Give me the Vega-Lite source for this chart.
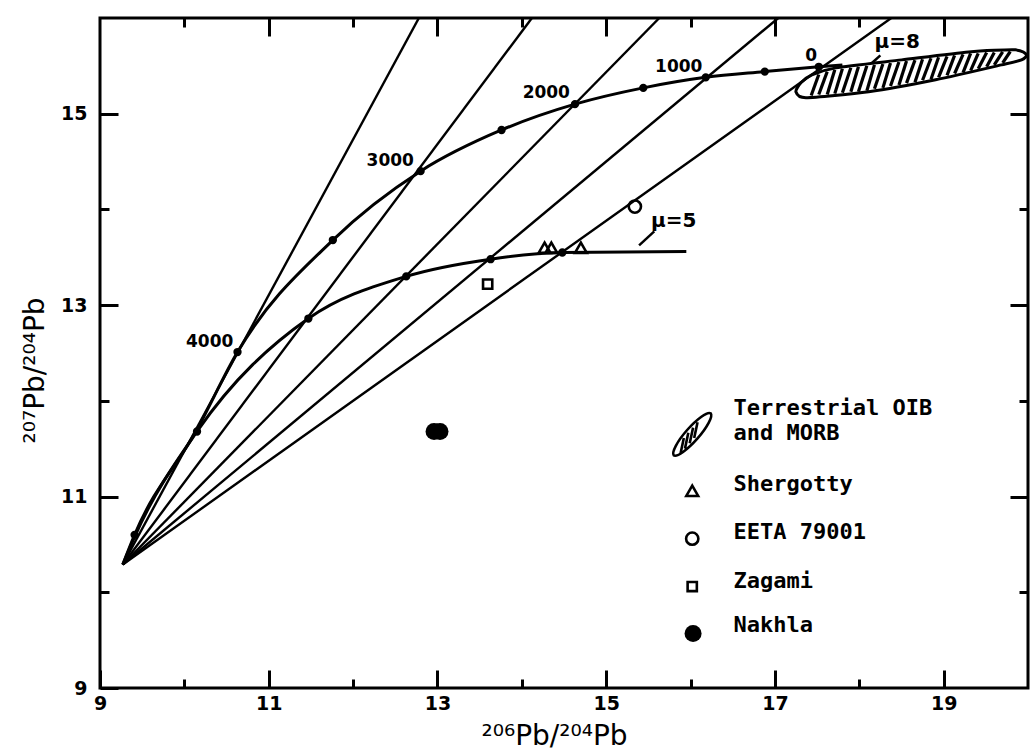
{
  "$schema": "https://vega.github.io/schema/vega-lite/v6.json",
  "width": 928,
  "height": 670,
  "autosize": {"type": "none"},
  "padding": {"left": 100, "top": 18, "right": 5, "bottom": 62},
  "background": "white",
  "config": {"view": {"stroke": "black", "strokeWidth": 3}},
  "datasets": {
    "iso": [
      {"age": 4000, "x": 9.27, "y": 10.29}, {"age": 4000, "x": 12.78, "y": 16},
      {"age": 3000, "x": 9.27, "y": 10.29}, {"age": 3000, "x": 14.12, "y": 16},
      {"age": 2000, "x": 9.27, "y": 10.29}, {"age": 2000, "x": 15.63, "y": 16},
      {"age": 1000, "x": 9.27, "y": 10.29}, {"age": 1000, "x": 17.04, "y": 16},
      {"age": 0, "x": 9.27, "y": 10.29}, {"age": 0, "x": 18.38, "y": 16}
    ],
    "growth": [
      {"mu": 8, "x": 9.27, "y": 10.29, "age": null},
      {"mu": 8, "x": 9.41, "y": 10.60, "age": 4500},
      {"mu": 8, "x": 10.15, "y": 11.70, "age": null},
      {"mu": 8, "x": 10.63, "y": 12.51, "age": 4000},
      {"mu": 8, "x": 11.76, "y": 13.68, "age": 3500},
      {"mu": 8, "x": 12.80, "y": 14.40, "age": 3000},
      {"mu": 8, "x": 13.76, "y": 14.83, "age": 2500},
      {"mu": 8, "x": 14.63, "y": 15.10, "age": 2000},
      {"mu": 8, "x": 15.44, "y": 15.27, "age": 1500},
      {"mu": 8, "x": 16.18, "y": 15.38, "age": 1000},
      {"mu": 8, "x": 16.88, "y": 15.44, "age": 500},
      {"mu": 8, "x": 17.52, "y": 15.49, "age": 0},
      {"mu": 8, "x": 17.80, "y": 15.51, "age": null},
      {"mu": 5, "x": 9.27, "y": 10.29, "age": null},
      {"mu": 5, "x": 9.41, "y": 10.58, "age": null},
      {"mu": 5, "x": 10.15, "y": 11.68, "age": 4000},
      {"mu": 5, "x": 11.47, "y": 12.86, "age": 3000},
      {"mu": 5, "x": 12.63, "y": 13.30, "age": 2000},
      {"mu": 5, "x": 13.63, "y": 13.48, "age": 1000},
      {"mu": 5, "x": 14.48, "y": 13.55, "age": 0},
      {"mu": 5, "x": 15.95, "y": 13.56, "age": null}
    ],
    "agelabels": [
      {"text": "4000", "x": 10.30, "y": 12.62},
      {"text": "3000", "x": 12.44, "y": 14.505},
      {"text": "2000", "x": 14.29, "y": 15.22},
      {"text": "1000", "x": 15.86, "y": 15.49},
      {"text": "0", "x": 17.43, "y": 15.60}
    ],
    "mulabels": [
      {"text": "μ=8", "x": 18.45, "y": 15.75},
      {"text": "μ=5", "x": 15.80, "y": 13.875}
    ],
    "leaders": [
      {"x": 18.15, "y": 15.53, "x2": 18.25, "y2": 15.61},
      {"x": 15.39, "y": 13.625, "x2": 15.57, "y2": 13.77}
    ],
    "morb": [
      {"i": 0, "x": 17.249, "y": 15.229},
      {"i": 1, "x": 17.367, "y": 15.167},
      {"i": 2, "x": 18.112, "y": 15.229},
      {"i": 3, "x": 18.905, "y": 15.354},
      {"i": 4, "x": 19.686, "y": 15.510},
      {"i": 5, "x": 19.923, "y": 15.5625},
      {"i": 6, "x": 19.982, "y": 15.615},
      {"i": 7, "x": 19.852, "y": 15.667},
      {"i": 8, "x": 19.296, "y": 15.646},
      {"i": 9, "x": 18.503, "y": 15.5625},
      {"i": 10, "x": 17.722, "y": 15.479},
      {"i": 11, "x": 17.438, "y": 15.406},
      {"i": 12, "x": 17.308, "y": 15.323}
    ],
    "hatch": [
      {"x": 17.43, "y": 15.19, "x2": 17.52, "y2": 15.41},
      {"x": 17.52, "y": 15.20, "x2": 17.62, "y2": 15.44},
      {"x": 17.62, "y": 15.20, "x2": 17.71, "y2": 15.46},
      {"x": 17.71, "y": 15.21, "x2": 17.80, "y2": 15.47},
      {"x": 17.80, "y": 15.22, "x2": 17.90, "y2": 15.48},
      {"x": 17.90, "y": 15.23, "x2": 17.99, "y2": 15.49},
      {"x": 17.99, "y": 15.23, "x2": 18.09, "y2": 15.50},
      {"x": 18.09, "y": 15.24, "x2": 18.18, "y2": 15.51},
      {"x": 18.18, "y": 15.26, "x2": 18.28, "y2": 15.52},
      {"x": 18.28, "y": 15.27, "x2": 18.37, "y2": 15.53},
      {"x": 18.37, "y": 15.29, "x2": 18.47, "y2": 15.54},
      {"x": 18.47, "y": 15.30, "x2": 18.56, "y2": 15.55},
      {"x": 18.56, "y": 15.32, "x2": 18.66, "y2": 15.56},
      {"x": 18.66, "y": 15.33, "x2": 18.75, "y2": 15.57},
      {"x": 18.75, "y": 15.35, "x2": 18.85, "y2": 15.58},
      {"x": 18.85, "y": 15.36, "x2": 18.94, "y2": 15.59},
      {"x": 18.94, "y": 15.38, "x2": 19.04, "y2": 15.60},
      {"x": 19.04, "y": 15.40, "x2": 19.13, "y2": 15.61},
      {"x": 19.13, "y": 15.42, "x2": 19.23, "y2": 15.62},
      {"x": 19.23, "y": 15.43, "x2": 19.32, "y2": 15.63},
      {"x": 19.32, "y": 15.45, "x2": 19.41, "y2": 15.63},
      {"x": 19.41, "y": 15.47, "x2": 19.51, "y2": 15.64},
      {"x": 19.51, "y": 15.49, "x2": 19.60, "y2": 15.64},
      {"x": 19.60, "y": 15.51, "x2": 19.70, "y2": 15.645},
      {"x": 19.70, "y": 15.53, "x2": 19.79, "y2": 15.65}
    ],
    "samples": [
      {"sample": "Shergotty", "role": "data", "x": 14.27, "y": 13.60},
      {"sample": "Shergotty", "role": "data", "x": 14.35, "y": 13.60},
      {"sample": "Shergotty", "role": "data", "x": 14.70, "y": 13.60},
      {"sample": "EETA 79001", "role": "data", "x": 15.34, "y": 14.03},
      {"sample": "Zagami", "role": "data", "x": 13.595, "y": 13.22},
      {"sample": "Nakhla", "role": "data", "x": 12.96, "y": 11.68},
      {"sample": "Nakhla", "role": "data", "x": 13.03, "y": 11.68},
      {"sample": "Terrestrial OIB and MORB", "role": "key", "x": 16.02, "y": 11.65},
      {"sample": "Shergotty", "role": "key", "x": 16.02, "y": 11.06},
      {"sample": "EETA 79001", "role": "key", "x": 16.02, "y": 10.56},
      {"sample": "Zagami", "role": "key", "x": 16.02, "y": 10.06},
      {"sample": "Nakhla", "role": "key", "x": 16.03, "y": 9.57}
    ],
    "keytext": [
      {"text": "Terrestrial OIB", "x": 16.51, "y": 11.93},
      {"text": "and MORB", "x": 16.51, "y": 11.665},
      {"text": "Shergotty", "x": 16.51, "y": 11.135},
      {"text": "EETA 79001", "x": 16.51, "y": 10.625},
      {"text": "Zagami", "x": 16.51, "y": 10.115},
      {"text": "Nakhla", "x": 16.51, "y": 9.656}
    ]
  },
  "encoding": {
    "x": {"field": "x", "type": "quantitative", "scale": {"domain": [9, 20], "nice": false, "zero": false}, "axis": null},
    "y": {"field": "y", "type": "quantitative", "scale": {"domain": [9, 16], "nice": false, "zero": false}, "axis": null}
  },
  "layer": [
    {
      "data": {"name": "iso"},
      "mark": {"type": "line", "stroke": "black", "strokeWidth": 2.4, "clip": true},
      "encoding": {
        "detail": {"field": "age", "type": "nominal"},
        "x": {"field": "x", "type": "quantitative", "scale": {"domain": [9, 20], "nice": false, "zero": false},
          "axis": {"orient": "bottom", "values": [9, 10, 11, 12, 13, 14, 15, 16, 17, 18, 19],
            "labelExpr": "datum.value % 2 == 1 ? datum.label : ''",
            "tickSize": {"condition": {"test": "datum.value % 2 == 1", "value": -18}, "value": -9},
            "tickWidth": 3, "tickColor": "black", "domain": false, "grid": false,
            "labelFlush": false, "labelOverlap": false, "labelFont": "DejaVu Sans", "labelFontWeight": "bold",
            "labelFontSize": 19, "labelColor": "black", "labelPadding": 24,
            "title": "²⁰⁶Pb/²⁰⁴Pb", "titleFont": "DejaVu Sans", "titleFontSize": 28, "titleFontWeight": "normal",
            "titleColor": "black", "titleX": 454, "titleY": 56, "titleAlign": "center", "titleBaseline": "alphabetic"}},
        "y": {"field": "y", "type": "quantitative", "scale": {"domain": [9, 16], "nice": false, "zero": false},
          "axis": {"orient": "left", "values": [9, 10, 11, 12, 13, 14, 15],
            "labelExpr": "datum.value % 2 == 1 ? datum.label : ''",
            "tickSize": {"condition": {"test": "datum.value % 2 == 1", "value": -18}, "value": -9},
            "tickWidth": 3, "tickColor": "black", "domain": false, "grid": false,
            "labelFlush": false, "labelOverlap": false, "labelFont": "DejaVu Sans", "labelFontWeight": "bold",
            "labelFontSize": 19, "labelColor": "black", "labelPadding": 31,
            "title": "²⁰⁷Pb/²⁰⁴Pb", "titleFont": "DejaVu Sans", "titleFontSize": 28, "titleFontWeight": "normal",
            "titleColor": "black", "titleAngle": 270, "titleX": -57, "titleY": 352, "titleAlign": "center", "titleBaseline": "alphabetic"}}
      }
    },
    {
      "data": {"name": "iso"},
      "mark": {"type": "point", "opacity": 0},
      "encoding": {
        "x": {"field": "x", "type": "quantitative", "scale": {"domain": [9, 20], "nice": false, "zero": false},
          "axis": {"orient": "top", "values": [10, 11, 12, 13, 14, 15, 16, 17, 18, 19], "labels": false, "title": null,
            "tickSize": {"condition": {"test": "datum.value % 2 == 1", "value": -18}, "value": -9},
            "tickWidth": 3, "tickColor": "black", "domain": false, "grid": false}},
        "y": {"field": "y", "type": "quantitative", "scale": {"domain": [9, 16], "nice": false, "zero": false},
          "axis": {"orient": "right", "values": [10, 11, 12, 13, 14, 15], "labels": false, "title": null,
            "tickSize": {"condition": {"test": "datum.value % 2 == 1", "value": -18}, "value": -9},
            "tickWidth": 3, "tickColor": "black", "domain": false, "grid": false}}
      }
    },
    {
      "data": {"name": "growth"},
      "mark": {"type": "line", "stroke": "black", "strokeWidth": 3, "interpolate": "monotone", "clip": true},
      "encoding": {"detail": {"field": "mu", "type": "nominal"}}
    },
    {
      "data": {"name": "growth"},
      "transform": [{"filter": "datum.age != null"}],
      "mark": {"type": "point", "filled": true, "fill": "black", "stroke": "black", "size": 40, "opacity": 1}
    },
    {
      "data": {"name": "agelabels"},
      "mark": {"type": "text", "font": "DejaVu Sans", "fontWeight": "bold", "fontSize": 17, "fill": "black", "align": "center", "baseline": "middle"},
      "encoding": {"text": {"field": "text"}}
    },
    {
      "data": {"name": "mulabels"},
      "mark": {"type": "text", "font": "DejaVu Sans", "fontWeight": "bold", "fontSize": 20, "fill": "black", "align": "center", "baseline": "middle"},
      "encoding": {"text": {"field": "text"}}
    },
    {
      "data": {"name": "leaders"},
      "mark": {"type": "rule", "stroke": "black", "strokeWidth": 2.5},
      "encoding": {"x2": {"field": "x2"}, "y2": {"field": "y2"}}
    },
    {
      "data": {"name": "morb"},
      "mark": {"type": "line", "stroke": "black", "strokeWidth": 3, "interpolate": "cardinal-closed", "tension": 0.3, "clip": true},
      "encoding": {"order": {"field": "i", "type": "quantitative"}}
    },
    {
      "data": {"name": "hatch"},
      "mark": {"type": "rule", "stroke": "black", "strokeWidth": 3.2},
      "encoding": {"x2": {"field": "x2"}, "y2": {"field": "y2"}}
    },
    {
      "data": {"name": "samples"},
      "transform": [{"filter": "datum.sample == 'Shergotty'"}],
      "mark": {"type": "point", "shape": "triangle-up", "filled": false, "stroke": "black", "strokeWidth": 2.6, "size": 140, "opacity": 1}
    },
    {
      "data": {"name": "samples"},
      "transform": [{"filter": "datum.sample == 'EETA 79001'"}],
      "mark": {"type": "point", "shape": "circle", "filled": false, "stroke": "black", "strokeWidth": 2.6, "size": 150, "opacity": 1}
    },
    {
      "data": {"name": "samples"},
      "transform": [{"filter": "datum.sample == 'Zagami'"}],
      "mark": {"type": "point", "shape": "square", "filled": false, "stroke": "black", "strokeWidth": 2.6, "size": 85, "opacity": 1}
    },
    {
      "data": {"name": "samples"},
      "transform": [{"filter": "datum.sample == 'Nakhla'"}],
      "mark": {"type": "point", "shape": "circle", "filled": true, "fill": "black", "size": 290, "opacity": 1}
    },
    {
      "data": {"name": "samples"},
      "transform": [{"filter": "datum.sample == 'Terrestrial OIB and MORB'"}],
      "mark": {"type": "point", "filled": false, "stroke": "black", "strokeWidth": 2.6, "size": 3136, "opacity": 1,
        "shape": "M -0.66 0.75 A 1 0.25 -48.6 0 1 0.66 -0.75 A 1 0.25 -48.6 0 1 -0.66 0.75 Z M -0.42 0.69 L -0.30 0.13 M -0.26 0.51 L -0.14 -0.06 M -0.09 0.32 L 0.03 -0.24 M 0.07 0.13 L 0.19 -0.43"}
    },
    {
      "data": {"name": "keytext"},
      "mark": {"type": "text", "font": "DejaVu Sans Mono", "fontWeight": "bold", "fontSize": 22, "fill": "black", "align": "left", "baseline": "middle"},
      "encoding": {"text": {"field": "text"}}
    }
  ],
  "resolve": {"axis": {"x": "independent", "y": "independent"}}
}
